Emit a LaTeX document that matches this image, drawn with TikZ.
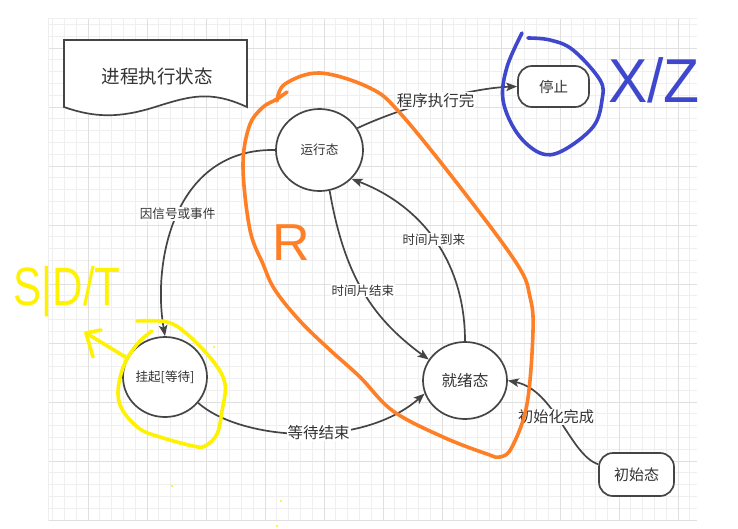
\documentclass[tikz,border=0pt]{standalone}
\usepackage{fontspec}
\setmainfont{Noto Sans CJK SC}
\newfontfamily\handfont{Liberation Sans}
\usetikzlibrary{shapes.geometric,arrows.meta}
\definecolor{linec}{HTML}{454545}
\definecolor{textc}{HTML}{333333}
\definecolor{gminor}{HTML}{EFEFEF}
\definecolor{gmajor}{HTML}{E0E0E0}
\definecolor{handorange}{HTML}{FF7F27}
\definecolor{handblue}{HTML}{3F48CC}
\definecolor{handyellow}{HTML}{FFF200}
\begin{document}
\begin{tikzpicture}[x=1pt,y=-1pt,
  stnode/.style={ellipse,draw=linec,line width=1.7pt,fill=white,text=textc,inner sep=0pt},
  rnode/.style={rectangle,rounded corners=14pt,draw=linec,line width=1.7pt,fill=white,text=textc,inner sep=0pt},
  conn/.style={draw=linec,line width=1.7pt,-{Stealth[length=11pt,width=8.5pt,inset=2.5pt]}},
  lbl/.style={fill=white,text=textc,inner sep=1pt},
  gridminor/.style={draw=gminor,line width=0.8pt},
  gridmajor/.style={draw=gmajor,line width=1pt},
  hand/.style={line width=3.6pt,line cap=round,line join=round},
  fs/.style={font=\fontsize{#1}{#1}\selectfont},
  hfs/.style={font=\handfont\fontsize{#1}{#1}\selectfont}]
\useasboundingbox[fill=white] (0,0) rectangle (738,528);
% grid
\begin{scope}
\clip (48,18) rectangle (697,521);
\foreach \k in {-3,...,51} {
  \pgfmathsetmacro{\xx}{88+11.8*\k}
  \draw[gridminor] (\xx,18) -- (\xx,521);
}
\foreach \k in {-2,...,40} {
  \pgfmathsetmacro{\yy}{48+11.8*\k}
  \draw[gridminor] (48,\yy) -- (697,\yy);
}
\foreach \k in {0,...,10} {
  \pgfmathsetmacro{\xx}{88+59*\k}
  \draw[gridmajor] (\xx,18) -- (\xx,521);
}
\foreach \k in {0,...,8} {
  \pgfmathsetmacro{\yy}{48+59*\k}
  \draw[gridmajor] (48,\yy) -- (697,\yy);
}
\draw[gridminor] (48,18) -- (48,521);
\draw[gridminor] (48,18) -- (697,18);
\end{scope}
% title document shape
\draw[draw=linec,line width=1.7pt,fill=white] (64,40) -- (247,40) -- (247,107)
  .. controls (210,90) and (190,96) .. (155,107)
  .. controls (120,118) and (95,118) .. (64,107) -- cycle;
\node[text=textc,fs=18.5] (title) at (157,76) {进程执行状态};
% states
\node[stnode,minimum width=87pt,minimum height=82pt,fs=12.6] (run) at (319.5,150) {运行态};
\node[stnode,minimum width=84pt,minimum height=77pt,fs=15.6] (ready) at (465,380.5) {就绪态};
\node[stnode,minimum width=84pt,minimum height=80pt,fs=12.6] (susp) at (165,377) {挂起[等待]};
\node[rnode,minimum width=71pt,minimum height=41pt,fs=14.5] (stop) at (553.5,86.5) {停止};
\node[rnode,minimum width=75pt,minimum height=43pt,fs=15] (init) at (636.5,474.5) {初始态};
% connectors
\draw[conn] (run.30) .. controls (400,108) and (470,88) .. (stop.west)
  node[lbl,pos=0.5,fs=15.5] (l1) {程序执行完};
\draw[conn] (run.west) .. controls (175,148) and (152,260) .. (susp.north)
  node[lbl,pos=0.5,fs=12.6] (l2) {因信号或事件};
\draw[conn] (run.-76) .. controls (345,280) and (375,320) .. (ready.150)
  node[lbl,pos=0.48,fs=12.5] (l3) {时间片结束};
\draw[conn] (ready.north) .. controls (465,260) and (420,205) .. (run.-42)
  node[lbl,pos=0.5,fs=12.5] (l4) {时间片到来};
\draw[conn] (susp.-38) .. controls (240,440) and (360,450) .. (ready.-162)
  node[lbl,pos=0.56,fs=15.5] (l5) {等待结束};
\draw[conn] (init.165) .. controls (570,455) and (555,390) .. (ready.east)
  node[lbl,pos=0.55,fs=15.2] (l6) {初始化完成};
% hand annotations: orange
\draw[hand,handorange] plot[smooth,tension=0.6] coordinates {(287,92) (277,99) (262,108) (249,127) (243,167) (250,230) (263,264) (275,290) (300,321) (330,350) (360,377) (393,411) (443,437) (487,454) (500,457) (512,447) (527,404) (533,331) (530,297) (517,264) (460,187) (400,113) (370,88) (320,73) (285,84) (277,101)};
\node[text=handorange,hfs=52] (rlab) at (291,243) {R};
% blue
\draw[hand,handblue] plot[smooth,tension=0.6] coordinates {(522,33) (507,67) (503,100) (517,133) (540,153) (562,151) (593,127) (602,100) (600,80) (573,50) (550,40) (528,38)};
\node[text=handblue,hfs=62] (xz) at (654,80) {\scalebox{0.95}[1]{X/Z}};
% yellow
\draw[hand,handyellow] plot[smooth,tension=0.6] coordinates {(137,321) (167,322) (187,334) (213,361) (225,384) (222,411) (217,434) (205,446) (193,446) (160,437) (140,429) (123,411) (118,394) (121,374) (128,357) (140,341) (152,331)};
\draw[hand,handyellow] (93,357) -- (86,333) -- (101,330);
\draw[hand,handyellow] (86,333) -- (127,358);
\node[text=handyellow,hfs=54] (sdt) at (67,292) {\scalebox{0.78}[1]{S|D/T}};
\fill[handyellow] (214,347) circle (1.2) (172,486) circle (1.2) (281,501) circle (1.2) (277,526) circle (1.2);
\end{tikzpicture}
\end{document}
